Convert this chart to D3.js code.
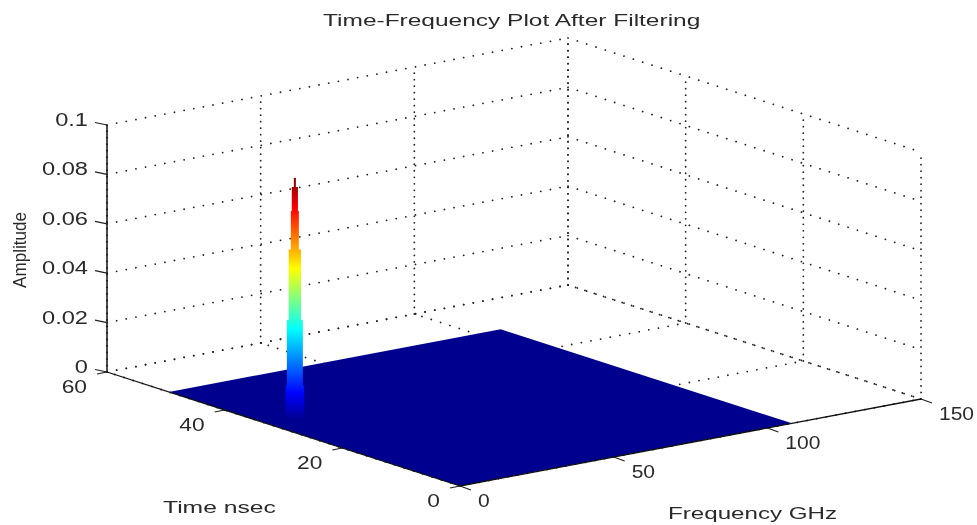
<!DOCTYPE html>
<html>
<head>
<meta charset="utf-8">
<script src="https://cdn.jsdelivr.net/npm/d3@7"></script>
<style>
  body { margin: 0; background: #fff; }
  svg { display: block; filter: blur(0.4px); }
  text { font-family: "Liberation Sans", Arial, sans-serif; fill: #2a2a2a; }
</style>
</head>
<body>
<div id="chart"></div>
<script>
const timeTicks = [0, 20, 40, 60];
const freqTicks = [0, 50, 100, 150];
const ampTicks = [0, 0.02, 0.04, 0.06, 0.08, 0.1];
const ampLabels = ['0', '0.02', '0.04', '0.06', '0.08', '0.1'];

// filtered surface: flat at zero over this extent
const surfaceTimes = [0, 49.5];
const surfaceFreqs = [0, 108];

// the single spike left after filtering
const peakTime = 32.3;
const peakFreq = 8.1;
const peakAmps = [0.098, 0.0943, 0.0846, 0.069, 0.0405, 0.014];
const peakHalfWidths = [0.33, 1, 1.3, 2, 2.6, 3];

// jet colormap
const jetStops = [
  [0, '#00008f'], [0.111, '#0000ff'], [0.375, '#00ffff'],
  [0.625, '#ffff00'], [0.875, '#ff0000'], [1, '#800000']
];

const width = 977;
const height = 525;
const origin = { x: 460, y: 486 };

// MATLAB view(3) is orthographic so each axis just adds a fixed offset
const timeX = d3.scaleLinear().domain([0, 60]).range([0, -353]);
const timeY = d3.scaleLinear().domain([0, 60]).range([0, -114]);
const freqX = d3.scaleLinear().domain([0, 150]).range([0, 461]);
const freqY = d3.scaleLinear().domain([0, 150]).range([0, -87]);
const ampY = d3.scaleLinear().domain([0, 0.1]).range([0, -247]);

const px = (t, f) => origin.x + timeX(t) + freqX(f);
const py = (t, f, a) => origin.y + timeY(t) + freqY(f) + ampY(a);

const svg = d3.select('#chart').append('svg')
  .attr('width', width)
  .attr('height', height);

const seg = (p, q, color, w, dash) => svg.append('line')
  .attr('x1', px(p[0], p[1])).attr('y1', py(p[0], p[1], p[2]))
  .attr('x2', px(q[0], q[1])).attr('y2', py(q[0], q[1], q[2]))
  .attr('stroke', color)
  .attr('stroke-width', w)
  .attr('stroke-linecap', dash ? 'round' : 'butt')
  .attr('stroke-dasharray', dash);

const flatDots = '0.01 9.8';
const upDots = '0.01 6.5';
const dotColor = '#222';
const dotSize = 1.8;

// walls
ampTicks.forEach(a => {
  seg([60, 0, a], [60, 150, a], dotColor, dotSize, flatDots);
  seg([60, 150, a], [0, 150, a], dotColor, dotSize, flatDots);
});
freqTicks.forEach(f => seg([60, f, 0], [60, f, 0.1], dotColor, dotSize, upDots));
timeTicks.forEach(t => seg([t, 150, 0], [t, 150, 0.1], dotColor, dotSize, upDots));

// floor
timeTicks.forEach(t => seg([t, 0, 0], [t, 150, 0], dotColor, dotSize, flatDots));
freqTicks.forEach(f => seg([0, f, 0], [60, f, 0], dotColor, dotSize, flatDots));

// surface
const corners = [
  [surfaceTimes[0], surfaceFreqs[0]],
  [surfaceTimes[1], surfaceFreqs[0]],
  [surfaceTimes[1], surfaceFreqs[1]],
  [surfaceTimes[0], surfaceFreqs[1]]
];
svg.append('polygon')
  .attr('points', corners.map(c => `${px(c[0], c[1])},${py(c[0], c[1], 0)}`).join(' '))
  .attr('fill', '#00008f');

// spike, stepped tiers sharing one vertical jet gradient
const peakX = px(peakTime, peakFreq);
const peakBase = py(peakTime, peakFreq, 0);
const peakTop = py(peakTime, peakFreq, peakAmps[0]);

const grad = svg.append('defs').append('linearGradient')
  .attr('id', 'jet')
  .attr('gradientUnits', 'userSpaceOnUse')
  .attr('x1', 0).attr('x2', 0)
  .attr('y1', peakBase).attr('y2', peakTop);
grad.selectAll('stop')
  .data(jetStops)
  .enter().append('stop')
  .attr('offset', d => d[0])
  .attr('stop-color', d => d[1]);

svg.selectAll('.tier')
  .data(peakAmps)
  .enter().append('rect')
  .attr('class', 'tier')
  .attr('x', (d, i) => peakX - freqX(peakHalfWidths[i]))
  .attr('width', (d, i) => 2 * freqX(peakHalfWidths[i]))
  .attr('y', d => py(peakTime, peakFreq, d))
  .attr('height', d => peakBase - py(peakTime, peakFreq, d))
  .attr('fill', 'url(#jet)');

// axes
seg([60, 0, 0], [60, 0, 0.1], '#111', 1.5);
seg([60, 0, 0], [0, 0, 0], '#111', 1.3);
seg([0, 0, 0], [0, 150, 0], '#111', 1.3);

// the image is stretched sideways, so is the lettering
const label = (str, x, y, size, anchor, stretch) => {
  const t = svg.append('text')
    .attr('x', x).attr('y', y)
    .attr('font-size', size)
    .attr('text-anchor', anchor)
    .text(str);
  t.attr('lengthAdjust', 'spacingAndGlyphs')
    .attr('textLength', t.node().getComputedTextLength() * stretch);
  return t;
};

const tick = (x, y, dx, dy) => svg.append('line')
  .attr('x1', x).attr('y1', y)
  .attr('x2', x + dx).attr('y2', y + dy)
  .attr('stroke', '#222')
  .attr('stroke-width', 1.2);

ampTicks.forEach((a, i) => {
  const x = px(60, 0);
  const y = py(60, 0, a);
  tick(x, y, -12, -2.5);
  label(ampLabels[i], x - 19, y + 1, 17.5, 'end', 1.35);
});
timeTicks.forEach(t => {
  const x = px(t, 0);
  const y = py(t, 0, 0);
  tick(x, y, -10, 2);
  label(String(t), x - 20, y + 21, 17.5, 'end', 1.3);
});
freqTicks.forEach(f => {
  const x = px(0, f);
  const y = py(0, f, 0);
  tick(x, y, 11, 4);
  label(String(f), x + 18, y + 21, 17.5, 'start', 1.2);
});

label('Time-Frequency Plot After Filtering', 323, 26, 16, 'start', 1.53);
label('Time nsec', 163, 513, 17, 'start', 1.45);
label('Frequency GHz', 668, 519, 17, 'start', 1.42);

svg.append('text')
  .attr('transform', 'translate(26,288) rotate(-90)')
  .attr('font-size', 19)
  .attr('textLength', 76)
  .attr('lengthAdjust', 'spacingAndGlyphs')
  .text('Amplitude');
</script>
</body>
</html>
